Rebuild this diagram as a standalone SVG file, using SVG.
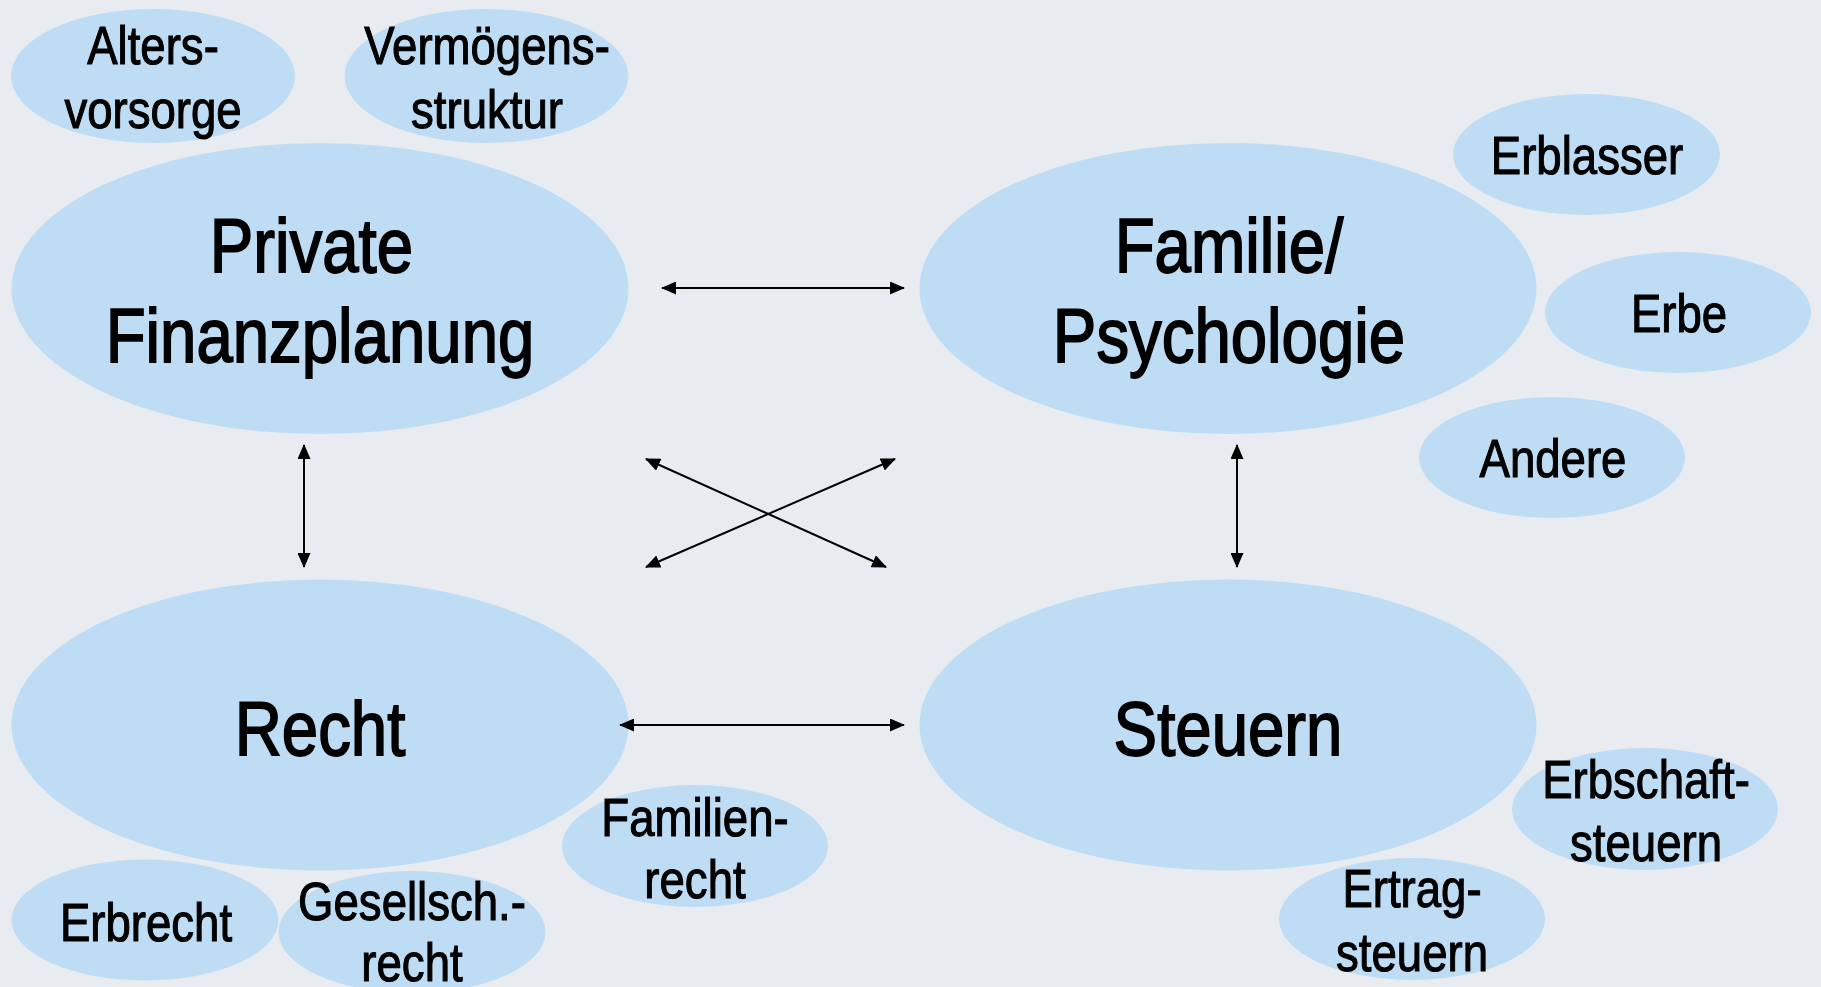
<svg xmlns="http://www.w3.org/2000/svg" width="1821" height="987" viewBox="0 0 1821 987">
<defs>
<style>
.bg{fill:#E8ECF1}
.n{fill:#BFDCF5}
.t{font-family:"Liberation Sans",Arial,sans-serif;fill:#000;stroke:#000;text-anchor:middle}
.big{font-size:76px;stroke-width:1.8}
.sm{font-size:53px;stroke-width:1.1}
.c{stroke:#000;stroke-width:2;fill:none;marker-start:url(#ah);marker-end:url(#ah)}
</style>
<marker id="ah" viewBox="0 0 15 13" markerWidth="15" markerHeight="13" refX="14" refY="6.5" orient="auto-start-reverse" markerUnits="userSpaceOnUse">
<path d="M0,0 L15,6.5 L0,13 z" fill="#000"/>
</marker>
</defs>
<rect class="bg" x="0" y="0" width="1821" height="987"/>

<g id="node-private">
<ellipse class="n" cx="320" cy="288.5" rx="308.5" ry="145.5"/>
<text class="t big" transform="translate(320,0) scale(0.86,1)"><tspan x="-10" y="272">Private</tspan><tspan x="0" y="362">Finanzplanung</tspan></text>
</g>
<g id="node-familie">
<ellipse class="n" cx="1228" cy="288.5" rx="308.5" ry="145.5"/>
<text class="t big" transform="translate(1229,0) scale(0.86,1)"><tspan x="0" y="272">Familie/</tspan><tspan x="0" y="362">Psychologie</tspan></text>
</g>
<g id="node-recht">
<ellipse class="n" cx="320" cy="725" rx="308.5" ry="145.5"/>
<text class="t big" transform="translate(320,0) scale(0.86,1)"><tspan x="0" y="755">Recht</tspan></text>
</g>
<g id="node-steuern">
<ellipse class="n" cx="1228" cy="725" rx="308.5" ry="145.5"/>
<text class="t big" transform="translate(1228,0) scale(0.86,1)"><tspan x="0" y="755">Steuern</tspan></text>
</g>

<g id="node-altersvorsorge">
<ellipse class="n" cx="153" cy="76" rx="142" ry="67"/>
<text class="t sm" transform="translate(153,0) scale(0.86,1)"><tspan x="0" y="64">Alters-</tspan><tspan x="0" y="128">vorsorge</tspan></text>
</g>
<g id="node-vermoegensstruktur">
<ellipse class="n" cx="486.5" cy="76" rx="142" ry="67"/>
<text class="t sm" transform="translate(487,0) scale(0.86,1)"><tspan x="0" y="64">Vermögens-</tspan><tspan x="0" y="128">struktur</tspan></text>
</g>
<g id="node-erblasser">
<ellipse class="n" cx="1586.5" cy="154.5" rx="133.5" ry="60.5"/>
<text class="t sm" transform="translate(1587,0) scale(0.86,1)"><tspan x="0" y="174">Erblasser</tspan></text>
</g>
<g id="node-erbe">
<ellipse class="n" cx="1678" cy="312.5" rx="133" ry="60.5"/>
<text class="t sm" transform="translate(1679,0) scale(0.86,1)"><tspan x="0" y="332">Erbe</tspan></text>
</g>
<g id="node-andere">
<ellipse class="n" cx="1552" cy="457.5" rx="133" ry="60.5"/>
<text class="t sm" transform="translate(1553,0) scale(0.86,1)"><tspan x="0" y="477">Andere</tspan></text>
</g>
<g id="node-familienrecht">
<ellipse class="n" cx="695" cy="846" rx="133" ry="61"/>
<text class="t sm" transform="translate(695,0) scale(0.86,1)"><tspan x="0" y="836">Familien-</tspan><tspan x="0" y="898">recht</tspan></text>
</g>
<g id="node-erbrecht">
<ellipse class="n" cx="145" cy="920" rx="133.5" ry="60.5"/>
<text class="t sm" transform="translate(146,0) scale(0.86,1)"><tspan x="0" y="941">Erbrecht</tspan></text>
</g>
<g id="node-gesellschrecht">
<ellipse class="n" cx="412" cy="932" rx="133.5" ry="61"/>
<text class="t sm" transform="translate(412,0) scale(0.86,1)"><tspan x="0" y="920">Gesellsch.-</tspan><tspan x="0" y="981">recht</tspan></text>
</g>
<g id="node-erbschaftsteuern">
<ellipse class="n" cx="1645" cy="809" rx="133" ry="61"/>
<text class="t sm" transform="translate(1646,0) scale(0.86,1)"><tspan x="0" y="798">Erbschaft-</tspan><tspan x="0" y="861">steuern</tspan></text>
</g>
<g id="node-ertragsteuern">
<ellipse class="n" cx="1412" cy="919" rx="133" ry="61"/>
<text class="t sm" transform="translate(1412,0) scale(0.86,1)"><tspan x="0" y="907">Ertrag-</tspan><tspan x="0" y="971">steuern</tspan></text>
</g>

<g id="connectors">
<line class="c" x1="662" y1="288" x2="904" y2="288"/>
<line class="c" x1="620" y1="725" x2="904" y2="725"/>
<line class="c" x1="304" y1="445" x2="304" y2="567"/>
<line class="c" x1="1237" y1="445" x2="1237" y2="567"/>
<line class="c" x1="646" y1="459" x2="886" y2="567"/>
<line class="c" x1="646" y1="567" x2="895" y2="459"/>
</g>
</svg>
